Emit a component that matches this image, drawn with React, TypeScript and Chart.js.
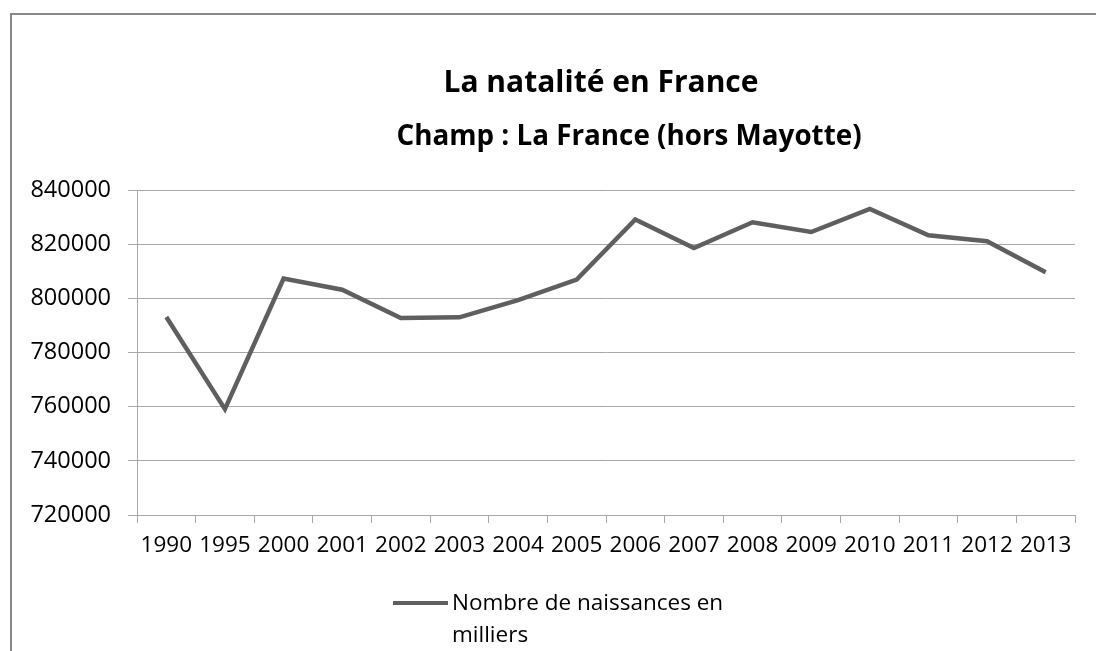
import React, { useEffect, useRef } from "react";
import { Chart, registerables } from "chart.js";

Chart.register(...registerables);

const years = ["1990", "1995", "2000", "2001", "2002", "2003", "2004", "2005", "2006", "2007", "2008", "2009", "2010", "2011", "2012", "2013"];
const births = [793100, 759100, 807300, 803200, 792750, 793000, 799300, 806900, 829100, 818600, 828100, 824500, 833000, 823300, 821100, 809600];
const yTicks = [720000, 740000, 760000, 780000, 800000, 820000, 840000];
const titleLines = ["La natalité en France", "Champ : La France (hors Mayotte)"];
const seriesLabel = "Nombre de naissances en milliers";
const legendLines = ["Nombre de naissances en", "milliers"];

const LINE_COLOR = "#5f5f5f";
const GRID_COLOR = "#a8a8a8";
const TICK_FONT = "'Open Sans', 'DejaVu Sans', sans-serif";

const decorPlugin = {
  id: "decor",
  afterDraw(chart: any) {
    const ctx = chart.ctx as CanvasRenderingContext2D;
    ctx.save();
    // outer frame
    ctx.strokeStyle = "#878787";
    ctx.lineWidth = 2;
    ctx.strokeRect(11, 14, 1300, 1000);
    // title
    ctx.fillStyle = "#000";
    ctx.textAlign = "center";
    ctx.textBaseline = "alphabetic";
    ctx.font = "bold 30px " + TICK_FONT;
    ctx.fillText(titleLines[0], 601, 92);
    ctx.font = "bold 27.8px " + TICK_FONT;
    ctx.fillText(titleLines[1], 629, 145);
    // legend
    const lx = 393;
    const ly = 603;
    ctx.strokeStyle = LINE_COLOR;
    ctx.lineWidth = 4;
    ctx.beginPath();
    ctx.moveTo(lx, ly);
    ctx.lineTo(lx + 55, ly);
    ctx.stroke();
    ctx.font = "22.5px " + TICK_FONT;
    ctx.textAlign = "left";
    ctx.textBaseline = "middle";
    ctx.fillStyle = "#000";
    ctx.fillText(legendLines[0], lx + 59, ly + 1);
    ctx.fillText(legendLines[1], lx + 59, ly + 33);
    ctx.restore();
  },
};

export default function App() {
  const ref = useRef<HTMLCanvasElement | null>(null);
  useEffect(() => {
    if (!ref.current) return;
    const chart = new Chart(ref.current, {
      type: "line",
      data: {
        labels: years,
        datasets: [
          {
            label: seriesLabel,
            data: births,
            borderColor: LINE_COLOR,
            backgroundColor: LINE_COLOR,
            borderWidth: 4.5,
            pointRadius: 0,
            tension: 0,
          },
        ],
      },
      options: {
        responsive: false,
        animation: false,
        layout: { padding: { left: 0, right: 21, top: 190, bottom: 80 } },
        plugins: {
          legend: { display: false },
          title: { display: false },
          tooltip: { enabled: false },
        },
        scales: {
          x: {
            offset: true,
            grid: {
              offset: true,
              drawOnChartArea: false,
              drawTicks: true,
              tickLength: 8,
              color: GRID_COLOR,
            },
            border: { display: true, color: GRID_COLOR },
            ticks: {
              autoSkip: false,
              maxRotation: 0,
              minRotation: 0,
              padding: 9,
              color: "#000",
              font: { family: TICK_FONT, size: 22.5 },
            },
            afterFit: (s: any) => {
              s.height = 56;
            },
          },
          y: {
            min: yTicks[0],
            max: yTicks[yTicks.length - 1],
            afterBuildTicks: (s: any) => {
              s.ticks = yTicks.map((v) => ({ value: v }));
            },
            grid: {
              color: GRID_COLOR,
              drawTicks: true,
              tickLength: 9,
            },
            border: { display: true, color: GRID_COLOR },
            ticks: {
              padding: 17,
              color: "#000",
              font: { family: TICK_FONT, size: 23.5 },
              callback: (v: any) => String(v),
            },
            afterFit: (s: any) => {
              s.width = 137;
            },
          },
        },
      },
      plugins: [decorPlugin],
    });
    return () => chart.destroy();
  }, []);
  return (
    <div style={{ position: "fixed", left: 0, top: 0, width: 1096, height: 651, background: "#fff" }}>
      <canvas ref={ref} width={1096} height={651} />
    </div>
  );
}
